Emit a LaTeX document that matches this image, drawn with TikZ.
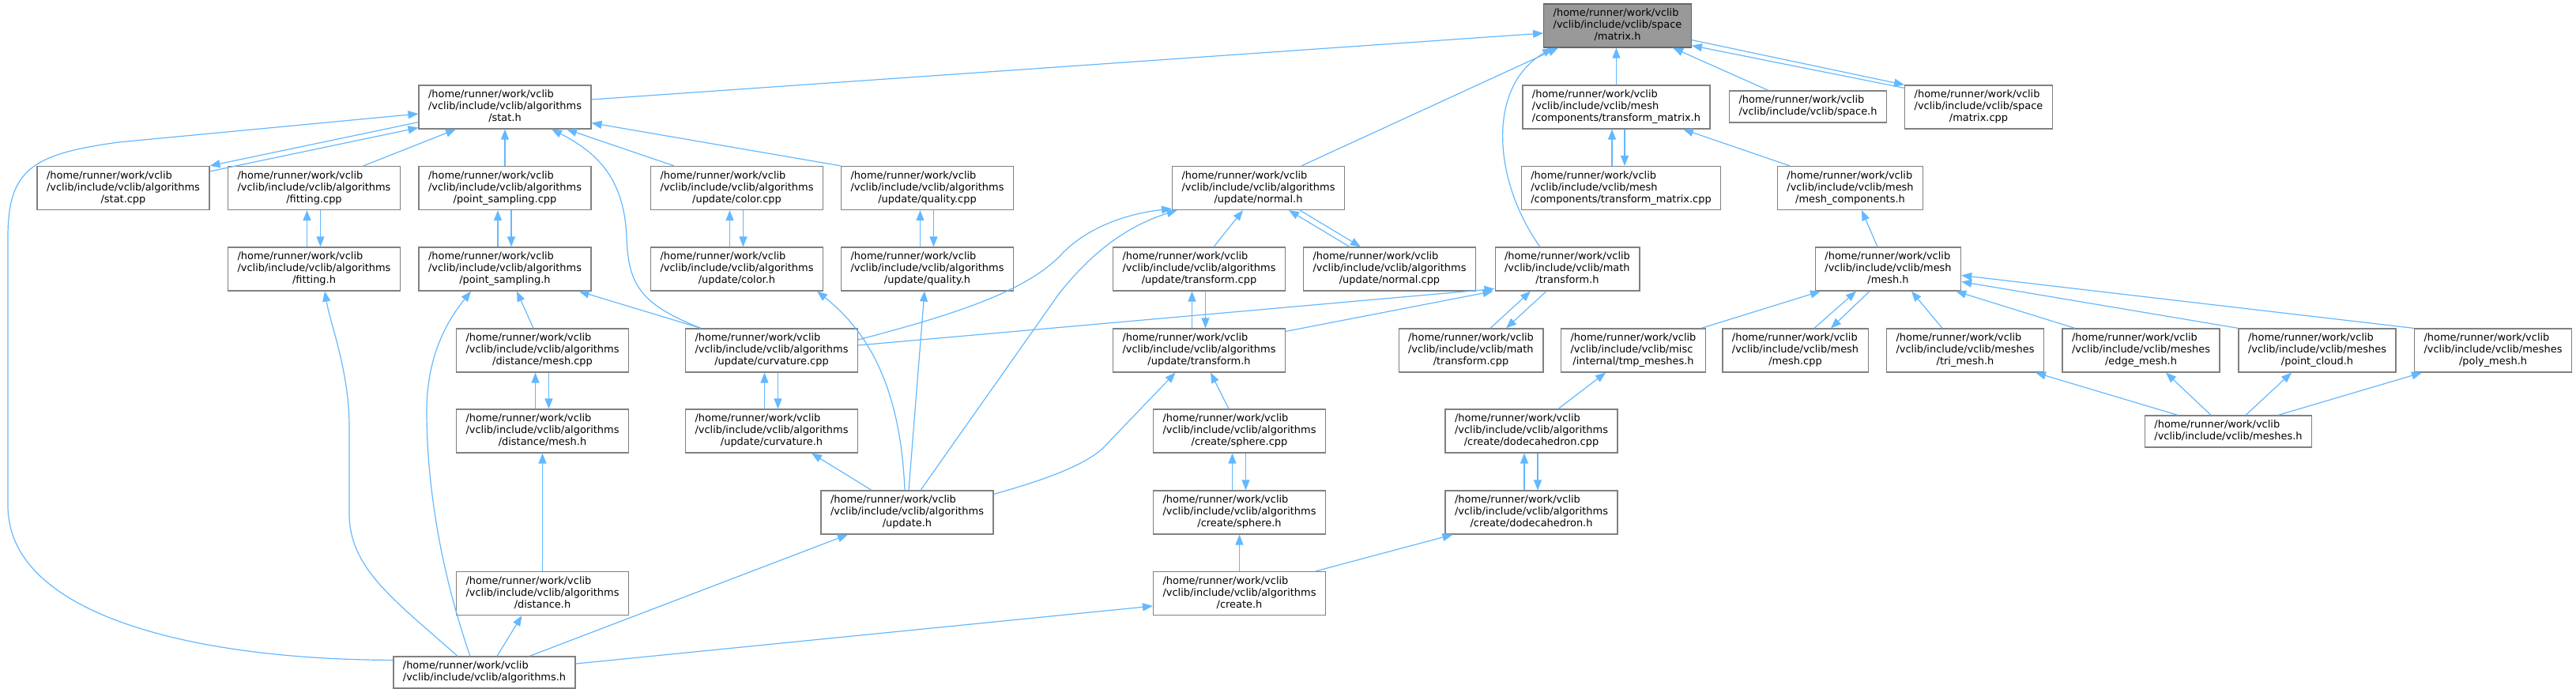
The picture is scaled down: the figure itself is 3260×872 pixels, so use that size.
\documentclass[tikz,border=0pt]{standalone}
\usepackage{fontspec}
\setmainfont{DejaVu Sans}
\usepackage{tikz}
\usetikzlibrary{arrows.meta}
\definecolor{edgeBlue}{HTML}{63B8FF}
\definecolor{boxGray}{HTML}{808080}
\definecolor{rootGray}{HTML}{999999}
\definecolor{rootBorder}{HTML}{666666}
\newcommand{\threeLine}[3]{\begin{tabular}{@{}l@{}}#1\\#2\\\multicolumn{1}{@{}c@{}}{#3}\end{tabular}}
\newcommand{\twoLine}[2]{\begin{tabular}{@{}l@{}}#1\\#2\end{tabular}}
\newcommand{\vcFile}[2]{\threeLine{/home/runner/work/vclib}{/vclib/include/vclib/#1}{#2}}
\newcommand{\algFile}[1]{\vcFile{algorithms}{#1}}

\begin{document}
\begin{tikzpicture}[x=1pt,y=-1pt,
  file/.style={draw=boxGray,line width=1.2pt,fill=white,inner xsep=12pt,inner ysep=5pt,font=\fontsize{12.94}{15}\selectfont},
  root/.style={file,fill=rootGray,draw=rootBorder},
  dep/.style={edgeBlue,line width=1.2pt,-{Triangle[length=13pt,width=10pt]}}]
\useasboundingbox (0,0) rectangle (3260,872);

\node[root] (matrixh) at (2047,32.5) {\vcFile{space}{/matrix.h}};

\node[file] (stath) at (639,135.5) {\algFile{/stat.h}};
\node[file] (tmh) at (2045.5,135.5) {\vcFile{mesh}{/components/transform\_matrix.h}};
\node[file] (spaceh) at (2288,135) {\twoLine{/home/runner/work/vclib}{/vclib/include/vclib/space.h}};
\node[file] (matcpp) at (2504,135.5) {\vcFile{space}{/matrix.cpp}};

\node[file] (statcpp) at (156,238) {\algFile{/stat.cpp}};
\node[file] (fitcpp) at (397.5,238) {\algFile{/fitting.cpp}};
\node[file] (pscpp) at (639,238) {\algFile{/point\_sampling.cpp}};
\node[file] (colcpp) at (932.5,238) {\algFile{/update/color.cpp}};
\node[file] (qualcpp) at (1173.5,238) {\algFile{/update/quality.cpp}};
\node[file] (normh) at (1592.5,238) {\algFile{/update/normal.h}};
\node[file] (tmcpp) at (2051.5,238) {\vcFile{mesh}{/components/transform\_matrix.cpp}};
\node[file] (mcomph) at (2341.5,238) {\vcFile{mesh}{/mesh\_components.h}};

\node[file] (fith) at (397.5,340.5) {\algFile{/fitting.h}};
\node[file] (psh) at (639,340.5) {\algFile{/point\_sampling.h}};
\node[file] (colh) at (932.5,340.5) {\algFile{/update/color.h}};
\node[file] (qualh) at (1173.5,340.5) {\algFile{/update/quality.h}};
\node[file] (trfcpp) at (1517.5,340.5) {\algFile{/update/transform.cpp}};
\node[file] (normcpp) at (1758.5,340.5) {\algFile{/update/normal.cpp}};
\node[file] (mtrh) at (1983.5,340.5) {\vcFile{math}{/transform.h}};
\node[file] (meshh) at (2389.5,340.5) {\vcFile{mesh}{/mesh.h}};

\node[file] (dmcpp) at (686.5,443.5) {\algFile{/distance/mesh.cpp}};
\node[file] (curvcpp) at (976.5,443.5) {\algFile{/update/curvature.cpp}};
\node[file] (trfh) at (1517.5,443.5) {\algFile{/update/transform.h}};
\node[file] (mtrcpp) at (1861.5,443.5) {\vcFile{math}{/transform.cpp}};
\node[file] (tmph) at (2067,443.5) {\vcFile{misc}{/internal/tmp\_meshes.h}};
\node[file] (meshcpp) at (2272,443.5) {\vcFile{mesh}{/mesh.cpp}};
\node[file] (trih) at (2487,443.5) {\vcFile{meshes}{/tri\_mesh.h}};
\node[file] (edgeh) at (2709.5,443.5) {\vcFile{meshes}{/edge\_mesh.h}};
\node[file] (pch) at (2932.5,443.5) {\vcFile{meshes}{/point\_cloud.h}};
\node[file] (polyh) at (3155,443.5) {\vcFile{meshes}{/poly\_mesh.h}};

\node[file] (dmh) at (686.5,545.5) {\algFile{/distance/mesh.h}};
\node[file] (curvh) at (976.5,545.5) {\algFile{/update/curvature.h}};
\node[file] (sphcpp) at (1568.5,545.5) {\algFile{/create/sphere.cpp}};
\node[file] (dodcpp) at (1938,545.5) {\algFile{/create/dodecahedron.cpp}};
\node[file] (meshesh) at (2820,546) {\twoLine{/home/runner/work/vclib}{/vclib/include/vclib/meshes.h}};

\node[file] (updh) at (1148,648.5) {\algFile{/update.h}};
\node[file] (sphh) at (1568.5,648.5) {\algFile{/create/sphere.h}};
\node[file] (dodh) at (1938,648.5) {\algFile{/create/dodecahedron.h}};

\node[file] (disth) at (686.5,751) {\algFile{/distance.h}};
\node[file] (crh) at (1568.5,751) {\algFile{/create.h}};

\node[file] (algh) at (613,851) {\twoLine{/home/runner/work/vclib}{/vclib/include/vclib/algorithms.h}};

\foreach \a/\b in {fitcpp/fith,pscpp/psh,colcpp/colh,qualcpp/qualh,trfcpp/trfh,curvcpp/curvh,dmcpp/dmh,sphcpp/sphh,dodcpp/dodh}{
  \draw[dep] ([xshift=-9]\b.north) -- ([xshift=-9]\a.south);
  \draw[dep] ([xshift=8]\a.south) -- ([xshift=8]\b.north);
}

\draw[dep] ([yshift=9.5]stath.east) -- ([yshift=-9.5]matrixh.west);
\draw[dep] (tmh.north) -- (tmh.north |- matrixh.south);
\draw[dep] ([xshift=-50]spaceh.north) -- ([xshift=70]matrixh.south);
\draw[dep] ([yshift=-4]matcpp.north west) -- ([yshift=3]matrixh.south east);
\draw[dep] ([yshift=10]matrixh.south east) -- (matcpp.north west);
\draw[dep] ([xshift=54.5]normh.north) -- ([xshift=-75]matrixh.south);
\draw[dep] ([xshift=-34.5]mtrh.north) .. controls (1890,230) and (1880,110) .. ([xshift=-82]matrixh.south);

\draw[dep] ([xshift=-11.5]tmcpp.north) -- ([xshift=-5.5]tmh.south);
\draw[dep] ([xshift=10.5]tmh.south) -- ([xshift=4.5]tmcpp.north);
\draw[dep] ([xshift=-76.5]mcomph.north) -- ([xshift=84.5]tmh.south);
\draw[dep] ([xshift=-13.5]meshh.north) -- ([xshift=14.5]mcomph.south);
\draw[dep] ([xshift=86]tmph.north) -- ([xshift=-85.5]meshh.south);
\draw[dep] ([xshift=24]meshcpp.north) -- ([xshift=-40.5]meshh.south);
\draw[dep] ([xshift=-23.5]meshh.south) -- ([xshift=45]meshcpp.north);
\draw[dep] ([xshift=-29]trih.north) -- ([xshift=29.5]meshh.south);
\draw[dep] ([xshift=-83.5]edgeh.north) -- ([xshift=-7]meshh.south east);
\draw[dep] (pch.north west) -- ([yshift=-16]meshh.east);
\draw[dep] (polyh.north west) -- ([yshift=-8]meshh.east);
\draw[dep] ([xshift=-64]meshesh.north) -- ([xshift=89]trih.south);
\draw[dep] ([xshift=-22]meshesh.north) -- ([xshift=31.5]edgeh.south);
\draw[dep] ([xshift=22]meshesh.north) -- ([xshift=-32.5]pch.south);
\draw[dep] ([xshift=63]meshesh.north) -- ([xshift=-90]polyh.south);

\draw[dep] ([yshift=-7]statcpp.north east) -- ([yshift=2]stath.south west);
\draw[dep] ([yshift=9]stath.south west) -- (statcpp.north east);
\draw[dep] ([xshift=62.5]fitcpp.north) -- ([xshift=-62]stath.south);
\draw[dep] (pscpp.north) -- (pscpp.north |- stath.south);
\draw[dep] ([xshift=20]curvcpp.north west) .. controls (810,385) and (795,360) .. (793,300) .. controls (790,230) and (760,195) .. ([xshift=59]stath.south);
\draw[dep] ([xshift=-79.5]colcpp.north) -- ([xshift=78]stath.south);
\draw[dep] (qualcpp.north west) -- ([yshift=8]stath.south east);
\draw[dep] ([yshift=-5]algh.north west) .. controls (250,835) and (10,780) .. (10,640) -- (10,300) .. controls (10,215) and (40,195) .. (150,180) -- ([yshift=-8.5]stath.west);

\draw[dep] ([xshift=-18]algh.north) .. controls (560,730) and (540,620) .. (540,520) .. controls (540,440) and (575,395) .. ([xshift=-43]psh.south);
\draw[dep] ([xshift=-34]algh.north) .. controls (500,760) and (442,720) .. (442,650) -- (442,540) .. controls (442,470) and (418,410) .. ([xshift=13.5]fith.south);
\draw[dep] ([xshift=-11.5]dmcpp.north) -- ([xshift=15]psh.south);
\draw[dep] ([xshift=20]curvcpp.north west) -- ([xshift=-16]psh.south east);
\draw[dep] (disth.north) -- (dmh.south);
\draw[dep] ([xshift=16]algh.north) -- ([xshift=-26]disth.south);
\draw[dep] ([xshift=57]algh.north) -- ([xshift=-75]updh.south);
\draw[dep] ([yshift=11]algh.east) -- ([yshift=-16]crh.west);

\draw[dep] ([xshift=-50.5]normcpp.north) -- ([xshift=38.5]normh.south);
\draw[dep] ([xshift=52.5]normh.south) -- ([xshift=-36.5]normcpp.north);
\draw[dep] ([xshift=24.5]mtrcpp.north) -- ([xshift=-46.5]mtrh.south);
\draw[dep] ([xshift=-26.5]mtrh.south) -- ([xshift=44.5]mtrcpp.north);
\draw[dep] ([xshift=18.5]trfcpp.north) -- ([xshift=-19.5]normh.south);
\draw[dep] ([yshift=13.5]curvcpp.east) .. controls (1200,400) and (1300,370) .. (1345,320) .. controls (1380,285) and (1430,270) .. ([yshift=2]normh.south west);
\draw[dep] ([xshift=17]updh.north) -- (1340,372) .. controls (1385,315) and (1430,285) .. ([xshift=-103]normh.south);
\draw[dep] ([yshift=6.5]curvcpp.east) -- ([yshift=3]mtrh.south west);
\draw[dep] ([yshift=-4]trfh.north east) -- ([xshift=-2]mtrh.south west);
\draw[dep] ([yshift=-5]updh.north east) .. controls (1320,608) and (1370,590) .. (1395,568) -- ([xshift=-30]trfh.south);
\draw[dep] ([xshift=-13.5]sphcpp.north) -- ([xshift=14.5]trfh.south);
\draw[dep] ([xshift=-45]updh.north) -- ([xshift=50.5]curvh.south);
\draw[dep] ([xshift=-3]updh.north) .. controls (1140,500) and (1105,425) .. ([xshift=101.5]colh.south);
\draw[dep] ([xshift=2]updh.north) -- ([xshift=-3.5]qualh.south);

\draw[dep] (crh.north) -- (sphh.south);
\draw[dep] ([xshift=96.5]crh.north) -- ([xshift=10]dodh.south west);
\draw[dep] ([xshift=34]dodcpp.north) -- ([xshift=-35]tmph.south);
\end{tikzpicture}
\end{document}
